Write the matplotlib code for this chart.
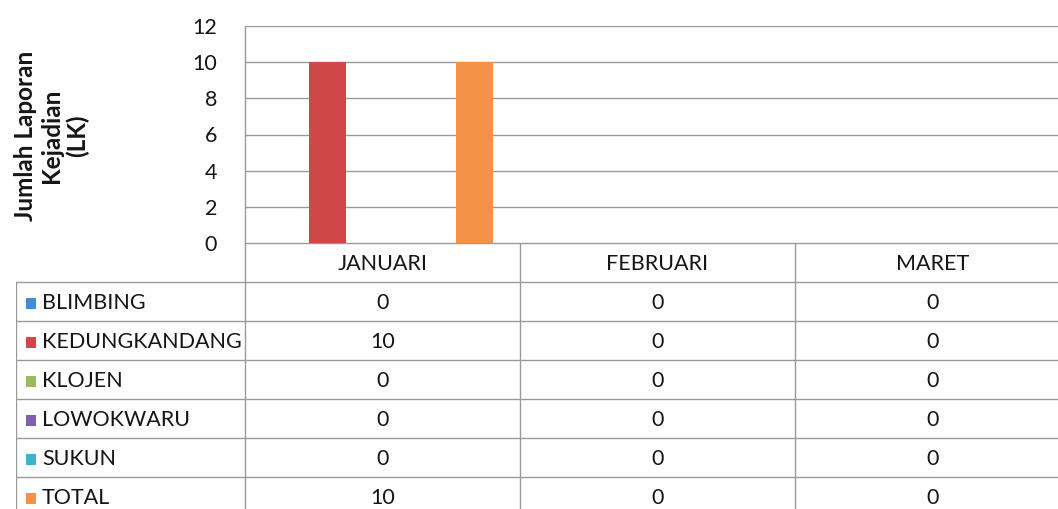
import numpy as np
import matplotlib.pyplot as plt

# =========================================================
# DATA
# =========================================================

months = ["JANUARI", "FEBRUARI", "MARET"]
districts = ["BLIMBING", "KEDUNGKANDANG", "KLOJEN", "LOWOKWARU", "SUKUN", "TOTAL"]
values = [
    [0, 0, 0],
    [10, 0, 0],
    [0, 0, 0],
    [0, 0, 0],
    [0, 0, 0],
    [10, 0, 0],
]
colors = ["#3D8FD8", "#CF4848", "#9BBB59", "#7E5FB4", "#3FB3CC", "#F5924A"]
y_ticks = [0, 2, 4, 6, 8, 10, 12]
y_label = "Jumlah Laporan\nKejadian\n(LK)"

plt.rcParams["font.family"] = ["Lato", "DejaVu Sans"]

W, H = 1058, 509
fig = plt.figure(figsize=(W / 100, H / 100), dpi=100)


def px_axes(left, top, right, bottom):
    return fig.add_axes([left / W, (H - bottom) / H,
                         (right - left) / W, (bottom - top) / H])


grid_col = "#9A9A9A"
text_col = "#151515"
fs = 15.5

# =========================================================
# BAR CHART
# =========================================================

ax = px_axes(245, 26, 1070, 243)
n = len(districts)
bw = 0.8 / n
x = np.arange(len(months))
for i, (name, vals) in enumerate(zip(districts, values)):
    ax.bar(x + 0.5 + (i - (n - 1) / 2) * bw, vals, width=bw,
           color=colors[i], zorder=3)

ax.set_xlim(0, len(months))
ax.set_ylim(0, 12)
ax.set_yticks(y_ticks)
ax.set_yticklabels([str(t) for t in y_ticks], fontsize=fs, color=text_col)
ax.set_xticks([])
ax.tick_params(axis="y", length=0, pad=20)
ax.grid(axis="y", color=grid_col, linewidth=1, zorder=0)
for s in ["top", "right", "bottom"]:
    ax.spines[s].set_visible(False)
ax.spines["left"].set_color(grid_col)
ax.spines["left"].set_linewidth(1)

fig.text(52 / W, 1 - 136 / H, y_label, rotation=90, ha="center",
         va="center", fontsize=17.5, fontweight="bold", color=text_col,
         linespacing=1.15)

# =========================================================
# DATA TABLE
# =========================================================

first_col = 229 / 275
tb = px_axes(16, 243, 1070, 243 + 39 * 7)
tb.set_xlim(-first_col, len(months))
tb.set_ylim(7, 0)
tb.axis("off")

line_kw = dict(color=grid_col, linewidth=1)
# horizontal lines
tb.plot([0, len(months)], [0, 0], **line_kw)
for r in range(1, 8):
    tb.plot([-first_col, len(months)], [r, r], **line_kw)
# vertical lines
tb.plot([-first_col, -first_col], [1, 7], **line_kw)
for c in range(len(months) + 1):
    tb.plot([c, c], [0, 7], **line_kw)

for j, m in enumerate(months):
    tb.text(j + 0.5, 0.55, m, ha="center", va="center", fontsize=fs,
            color=text_col)

for i, name in enumerate(districts):
    yc = i + 1.55
    tb.add_patch(plt.Rectangle((-first_col + 10 / 275, yc - 0.15), 10 / 275, 0.28,
                               color=colors[i], linewidth=0))
    tb.text(-first_col + 26 / 275, yc, name, ha="left", va="center",
            fontsize=fs, color=text_col)
    for j, v in enumerate(values[i]):
        tb.text(j + 0.5, yc, str(v), ha="center", va="center", fontsize=fs,
                color=text_col)

fig.savefig("out.png", dpi=100)
